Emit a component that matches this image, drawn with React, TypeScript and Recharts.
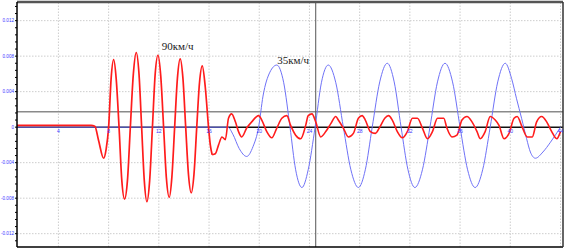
import React from "react";
import {
  LineChart,
  Line,
  XAxis,
  YAxis,
  ReferenceLine,
  ReferenceDot,
} from "recharts";

// ---- data (time, amplitude) ----
// red trace, 90 km/h: large oscillation part
const redWaveX = [
  0.7, 6.6, 6.9, 7.2, 7.6, 7.8, 8.0, 8.2, 8.4, 8.6, 8.83, 9.05, 9.27, 9.5, 9.73, 9.97, 10.2, 10.42,
  10.63, 10.84, 11.05, 11.27, 11.49, 11.71, 11.93, 12.15, 12.38, 12.6, 12.83, 13.04, 13.26, 13.48,
  13.7, 13.92, 14.14, 14.36, 14.58, 14.8, 15.02, 15.24, 15.46, 15.7, 15.96, 16.1, 16.25,
];
const redWaveY = [
  0.0002, 0.0002, 0.0001, -0.0015, -0.0035, -0.0025, 0, 0.0055, 0.0076, 0.0055, 0, -0.006, -0.0081,
  -0.006, 0, 0.006, 0.0084, 0.006, 0, -0.006, -0.0084, -0.006, 0, 0.006, 0.0081, 0.0058, 0, -0.0057,
  -0.0079, -0.0056, 0, 0.0055, 0.0077, 0.0055, 0, -0.0053, -0.0074, -0.0053, 0, 0.005, 0.0069, 0.0045,
  0, -0.002, -0.0031,
];
// red trace: small noisy tail
const redTailX = [
  16.25, 16.5, 16.76, 17.03, 17.3, 17.55, 17.8, 18.1, 18.35, 18.6, 19.0, 19.4, 19.95, 20.2, 20.6,
  21.0, 21.4, 21.8, 22.2, 22.5, 22.9, 23.3, 23.7, 23.9, 24.2, 24.5, 24.9, 25.3, 25.7, 26.1, 26.3, 26.7,
  27.1, 27.5, 27.9, 28.2, 28.45, 28.85, 29.25, 29.6, 30.0, 30.3, 30.6, 31.0, 31.4, 31.8, 32.2, 32.6,
  33.0, 33.4, 33.8, 34.2, 34.7, 34.95, 35.35, 35.75, 36.15, 36.55, 36.95, 37.35, 37.6, 38.0, 38.4,
  38.8, 39.1, 39.5, 39.9, 40.3, 40.55, 40.95, 41.35, 41.75, 42.1, 42.5, 42.9, 43.3, 43.7, 44.0,
];
const redTailY = [
  -0.0031, -0.003, -0.002, -0.0011, -0.0014, 0.001, 0.0015, 0.0006, -0.0005, -0.0011, -0.0001, 0.0006,
  0.0013, 0.0008, -0.0005, -0.0012, -0.0001, 0.001, 0.0013, 0.0002, -0.0009, -0.0013, 0.0002, 0.0013,
  0.0015, 0.0006, -0.0011, -0.0005, 0.0004, 0.0012, 0.0008, -0.0001, -0.0011, -0.0007, 0.001, 0.0013,
  0.0008, -0.0005, -0.0007, 0, 0.001, 0.0013, 0.0008, -0.0005, -0.0012, -0.0005, 0.001, 0.001,
  -0.0001, -0.0013, -0.0005, 0.001, 0.001, -0.0001, -0.0011, -0.0009, 0.0008, 0.0012, 0.0006, -0.0005,
  -0.0013, -0.0005, 0.0012, 0.0008, 0.0002, -0.0013, -0.0007, 0.001, 0.0012, 0, -0.0011, -0.0011,
  0.0006, 0.0012, 0.0006, -0.0005, -0.0013, -0.0005,
];

// blue trace, 35 km/h
const blueX = [
  0.7, 17.5, 17.9, 18.4, 19.0, 19.5, 19.95, 20.3, 20.85, 21.4, 21.95, 22.45, 22.9, 23.4, 23.9, 24.45,
  24.95, 25.5, 26.1, 26.7, 27.3, 27.9, 28.45, 29.0, 29.6, 30.2, 30.75, 31.3, 31.85, 32.4, 33.0, 33.6,
  34.2, 34.8, 35.4, 36.0, 36.6, 37.2, 37.8, 38.4, 39.0, 39.6, 40.1, 40.5, 40.9, 41.3, 41.6, 42.0, 42.6,
  43.2, 44.0,
];
const blueY = [
  0, 0, -0.0008, -0.0024, -0.0033, -0.0022, 0, 0.0035, 0.0062, 0.007, 0.005, 0, -0.0048, -0.0068,
  -0.0048, 0, 0.005, 0.007, 0.005, 0, -0.0048, -0.0068, -0.0048, 0, 0.0051, 0.0072, 0.0051, 0, -0.0048,
  -0.0068, -0.0048, 0, 0.0051, 0.0072, 0.0051, 0, -0.0048, -0.0068, -0.0048, 0, 0.0051, 0.0072,
  0.0055, 0.0032, 0.001, -0.0013, -0.0028, -0.0035, -0.0028, -0.0017, 0,
];

const xTicks = [4, 8, 12, 16, 20, 24, 28, 32, 36, 40, 44];
const yMajorTicks = [-0.012, -0.008, -0.004, 0, 0.004, 0.008, 0.012];
const yMinorTicks = Array.from({ length: 34 }, (_, i) => Math.round((-0.0128 + i * 0.0008) * 1e5) / 1e5);

const xDomain: [number, number] = [0.7, 44.2];
const yDomain: [number, number] = [-0.0135, 0.0141];

const thresholdLevel = 0.00175;
const cursorTime = 24.5;

const speedLabels = [
  { x: 13.5, y: 0.0091, text: "90км/ч" },
  { x: 22.7, y: 0.0075, text: "35км/ч" },
];

const redWaveData = redWaveX.map((x, i) => ({ t: x, v: redWaveY[i] }));
const redTailData = redTailX.map((x, i) => ({ t: x, v: redTailY[i] }));
const blueData = blueX.map((x, i) => ({ t: x, v: blueY[i] }));

const tickBlue = "#3b3bff";
const gridColor = "#cdcdcd";

const YTick = (props: any) => {
  const { x, y, payload } = props;
  const v = payload.value;
  const isMajor = yMajorTicks.some((m) => Math.abs(m - v) < 1e-7);
  if (!isMajor) return <g />;
  const label = Math.abs(v) < 1e-9 ? "0" : v.toFixed(3);
  return (
    <text x={x} y={y} dy={1.6} textAnchor="end" fontSize={4.6} fill={tickBlue} fontFamily="Arial, Liberation Sans, sans-serif">
      {label}
    </text>
  );
};

export default function App() {
  return (
    <div style={{ position: "fixed", left: 0, top: 0, width: 565, height: 249, background: "#fff" }}>
      <LineChart width={565} height={249} margin={{ top: 1, right: 1, bottom: 1, left: 0 }}>
        <XAxis
          dataKey="t"
          type="number"
          domain={xDomain}
          ticks={xTicks}
          tick={false}
          tickLine={false}
          height={1}
          axisLine={{ stroke: "#000", strokeWidth: 1.5 }}
          allowDataOverflow
        />
        <XAxis
          xAxisId="top"
          orientation="top"
          type="number"
          domain={xDomain}
          tick={false}
          tickLine={false}
          height={1}
          axisLine={{ stroke: "#555", strokeWidth: 2.5 }}
          allowDataOverflow
        />
        <YAxis
          type="number"
          domain={yDomain}
          ticks={yMinorTicks}
          interval={0}
          tick={<YTick />}
          tickSize={2}
          tickMargin={1}
          tickLine={{ stroke: "#000" }}
          width={17}
          axisLine={{ stroke: "#000", strokeWidth: 1.5 }}
          allowDataOverflow
        />
        <YAxis
          yAxisId="right"
          orientation="right"
          type="number"
          domain={yDomain}
          tick={false}
          tickLine={false}
          width={1}
          axisLine={{ stroke: "#333", strokeWidth: 1.5 }}
          allowDataOverflow
        />
        {xTicks.map((t) => (
          <ReferenceLine key={"gx" + t} x={t} stroke={gridColor} strokeDasharray="1.5 1.5" strokeWidth={1} ifOverflow="hidden" />
        ))}
        {yMajorTicks
          .filter((v) => v !== 0)
          .map((v) => (
            <ReferenceLine key={"gy" + v} y={v} stroke={gridColor} strokeDasharray="1.5 1.5" strokeWidth={1} />
          ))}
        <ReferenceLine y={thresholdLevel} stroke="#8a8a8a" strokeWidth={1.5} />
        <ReferenceLine y={0} stroke="#111" strokeWidth={1.5} />
        <ReferenceLine x={cursorTime} stroke="#555" strokeWidth={1} />
        {xTicks.map((t) => (
          <ReferenceDot
            key={"xl" + t}
            x={t}
            y={0}
            r={0}
            ifOverflow="visible"
            shape={() => <g />}
            label={{ value: String(t), position: "bottom", offset: 2, fill: tickBlue, fontSize: 5, fontFamily: "Arial, sans-serif" }}
          />
        ))}
        <Line
          data={blueData}
          dataKey="v"
          type="monotone"
          stroke="#6f72f7"
          strokeWidth={1}
          dot={false}
          isAnimationActive={false}
        />
        <Line
          data={redWaveData}
          dataKey="v"
          type="monotone"
          stroke="#ff1c1c"
          strokeWidth={1.7}
          dot={false}
          isAnimationActive={false}
        />
        <Line
          data={redTailData}
          dataKey="v"
          type="monotone"
          stroke="#ff1c1c"
          strokeWidth={1.6}
          dot={false}
          isAnimationActive={false}
        />
        {speedLabels.map((s) => (
          <ReferenceDot
            key={s.text}
            x={s.x}
            y={s.y}
            r={0}
            ifOverflow="visible"
            shape={() => <g />}
            label={{ value: s.text, position: "center", fill: "#222", fontSize: 11, fontFamily: "Liberation Serif, Times New Roman, serif" }}
          />
        ))}
      </LineChart>
    </div>
  );
}
